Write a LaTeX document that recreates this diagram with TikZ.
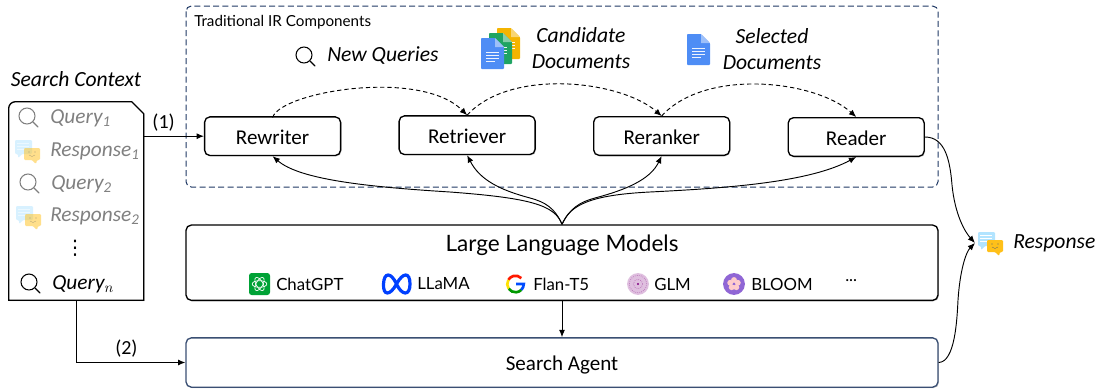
\documentclass[tikz,border=0pt]{standalone}
\usepackage{fontspec}
\setmainfont{Carlito}
\newfontfamily\handfont{Lato}
\newfontfamily\symfont{DejaVu Sans}
\usetikzlibrary{
  arrows.meta, % for the small filled arrow tips
  positioning, % for relative positioning of the modules
  shadows % for the soft edge under the boxes
}
\definecolor{framenavy}{HTML}{1F3864}
\definecolor{agentblue}{HTML}{3A4F73}
\definecolor{docblue}{HTML}{4E8DF5}
\definecolor{sheetgreen}{HTML}{1FA463}
\definecolor{slideyellow}{HTML}{F4B400}
\tikzset{
  x=.75pt,y=-.75pt, % one unit is one pixel of the picture, y down
  module/.style={ % style for the four IR modules
    rectangle,rounded corners=4pt,draw,line width=1pt,fill=white,
    drop shadow={shadow xshift=.7pt,shadow yshift=-.7pt,opacity=.4},
    minimum width=102pt,minimum height=29pt,
    text height=12.5pt,text depth=0pt,
    font=\fontsize{15.8}{18}\selectfont,
  },
  panel/.style={ % style for the two wide boxes
    module,minimum width=564pt,
  },
  caption/.style={ % style for the italic captions
    font=\fontsize{16.2}{19.5}\selectfont\itshape,align=center,
  },
  ctxline/.style={ % style for the lines in the search context
    anchor=west,inner sep=0pt,font=\fontsize{16}{18}\selectfont\itshape,
  },
  faded/.style={text=black!50},
  llmname/.style={ % style for the model names
    anchor=west,inner sep=0pt,font=\handfont\fontsize{12.6}{15}\selectfont,
  },
  conn/.style={ % style for the connections
    -{Latex[length=5.5pt,width=4.5pt]},line width=.7pt,
  },
  flow/.style={conn,dashed,dash pattern=on 3.2pt off 2.2pt},
  pics/lens/.style={code={ % magnifying glass
    \draw[#1,line width=.8pt] (0,0) circle (6pt);
    \draw[#1,line width=1pt,line cap=round] (6,6) -- (11,11);
  }},
  pics/lens/.default=black,
  pics/chat/.style={code={ % two speech bubbles
    \fill[rounded corners=.8pt,fill=blue!35!cyan!30] (0,0) -- (17,0) -- (17,14) -- (7,14) -- (3,18) -- (3,14) -- (0,14) -- cycle;
    \draw[white,line width=.4pt] (2,3) -- (14,3) (2,6) -- (14,6) (2,9) -- (10,9);
    \fill[rounded corners=.8pt,fill=orange!55!yellow!90!white] (9,8) -- (25,8) -- (25,20) -- (22,20) -- (21,24) -- (17,20) -- (9,20) -- cycle;
    \fill[black!60] (14,12) circle (.5pt) (20,12) circle (.5pt);
    \draw[black!60,line width=.3pt] (14,15) .. controls (16,17) and (18,17) .. (20,15);
  }},
  pics/gdoc/.style={code={ % page with a folded corner
    \fill[#1,rounded corners=.6pt] (0,0) -- (14,0) -- (23,9) -- (23,31) -- (0,31) -- cycle;
    \fill[white,opacity=.45] (14,0) -- (23,9) -- (14,9) -- cycle;
    \draw[white,line width=.6pt,opacity=.9] (5,14) -- (18,14) (5,17) -- (18,17) (5,20) -- (18,20) (5,23) -- (14,23);
  }},
  pics/gdoc/.default=docblue,
}
\begin{document}
\begin{tikzpicture}
\useasboundingbox (0,0) rectangle (1098,389);
% IR modules
\draw[framenavy,line width=.75pt,dashed,dash pattern=on 4.5pt off 2.5pt,rounded corners=4pt] (186,6) rectangle (938,187);
\node[anchor=west,inner sep=0pt,font=\handfont\fontsize{11.4}{13}\selectfont] (irtitle) at (194,22) {Traditional IR Components};
\node[module] (rewriter) at (272.6,136.2) {Rewriter};
\node[module,right=42.9pt of rewriter,yshift=.75pt] (retriever) {Retriever};
\node[module,right=42.9pt of retriever,yshift=-.6pt] (reranker) {Reranker};
\node[module,right=42.9pt of reranker,yshift=-.75pt] (reader) {Reader};
% wide boxes
\node[panel,minimum height=56.5pt] (llm) at (562,262.7) {};
\node[panel,minimum height=37pt,draw=agentblue] (agent) at (562,362.5) {Search Agent};
\node[font=\handfont\fontsize{16.9}{20}\selectfont] (llmtitle) at (562,245.5) {Large Language Models};
% search context
\node[caption] (ctxtitle) at (76,79) {Search Context};
\node[minimum width=100.9pt,minimum height=148.5pt,inner sep=0pt] (ctx) at (76.2,201) {};
\draw[line width=1pt,fill=white,drop shadow={shadow xshift=.7pt,shadow yshift=-.7pt,opacity=.4}] (ctx.south west) -- ([yshift=-5pt]ctx.north west) arc[start angle=180,end angle=90,radius=5pt] -- ([xshift=-9pt]ctx.north east) -- ([yshift=-9pt]ctx.north east) -- (ctx.south east) -- cycle;
\pic[opacity=.5] at (27,116) {lens=black};
\pic[opacity=.5] at (15,140) {chat};
\pic[opacity=.5] at (28,182) {lens=black};
\pic[opacity=.5] at (16,206) {chat};
\pic at (29,282) {lens};
\node[ctxline,faded] (q1) at (50,118) {Query$_{\mathit{1}}$};
\node[ctxline,faded] (r1) at (50,151) {Response$_{\mathit{1}}$};
\node[ctxline,faded] (q2) at (51,184) {Query$_{\mathit{2}}$};
\node[ctxline,faded] (r2) at (50,216) {Response$_{\mathit{2}}$};
\node[inner sep=0pt,font=\symfont\fontsize{15}{15}\selectfont] (qdots) at (75,248) {⋮};
\node[ctxline] (qn) at (52,284) {Query$_{n}$};
% captions
\pic at (304,55) {lens};
\node[caption,anchor=west,inner sep=0pt] (newq) at (327,56) {New Queries};
\pic at (497,28) {gdoc=slideyellow};
\pic at (489,33) {gdoc=sheetgreen};
\pic at (481,38) {gdoc};
\node[caption] (canddocs) at (581,48) {Candidate\\Documents};
\pic at (687,34) {gdoc};
\node[caption] (seldocs) at (772,49.5) {Selected\\Documents};
% model row
\fill[green!50!teal!85!black,rounded corners=2pt] (249,273) rectangle (270,295);
\draw[white,line width=.5pt] (259.5,284) ellipse (5.5pt and 2.5pt);
\draw[white,line width=.5pt,rotate around={60:(259.5,284)}] (259.5,284) ellipse (5.5pt and 2.5pt);
\draw[white,line width=.5pt,rotate around={-60:(259.5,284)}] (259.5,284) ellipse (5.5pt and 2.5pt);
\node[llmname] (chatgpt) at (276,284) {ChatGPT};
\draw[blue!75!cyan,line width=2.4pt] (396.5,284) .. controls (391,272) and (384,272) .. (383.5,284) .. controls (383,296) and (390,296) .. (396.5,284) .. controls (403,272) and (410,272) .. (410,284) .. controls (410,296) and (402,296) .. (396.5,284);
\node[llmname] (llama) at (417,284) {LLaMA};
\draw[red!80!orange,line width=2pt] (515.5,284) ++(45:6.2pt) arc[start angle=45,end angle=150,radius=6.2pt];
\draw[yellow!85!orange,line width=2pt] (515.5,284) ++(150:6.2pt) arc[start angle=150,end angle=215,radius=6.2pt];
\draw[green!60!black,line width=2pt] (515.5,284) ++(215:6.2pt) arc[start angle=215,end angle=315,radius=6.2pt];
\draw[blue!70!cyan,line width=2pt] (515.5,284) ++(315:6.2pt) arc[start angle=315,end angle=360,radius=6.2pt] -- (516,284);
\node[llmname] (flan) at (533,284) {Flan-T5};
\fill[violet!25] (638,284) circle (8.2pt);
\draw[violet!60,densely dotted,line width=.5pt] (638,284) circle (6.5pt) (638,284) circle (3.5pt);
\fill[violet] (638,284) circle (.8pt);
\node[llmname] (glm) at (654,284) {GLM};
\fill[blue!45!violet!60] (734,284) circle (8.2pt);
\foreach \petal in {0,72,...,288}
  \fill[red!20] (734,284) ++(\petal+90:3pt) circle (2.2pt);
\node[llmname] (bloom) at (751,284) {BLOOM};
\node[llmname] (llmdots) at (845,281) {...};
% response
\coordinate (resp) at (975,243);
\pic at (978,232) {chat};
\node[caption,anchor=west,inner sep=0pt] (response) at (1013,243) {Response};
% connections
\draw[conn] (ctx.east |- rewriter.west) -- node[above,font=\fontsize{15}{16}\selectfont,pos=.33] {(1)} (rewriter.west);
\draw[conn] (ctx.south) |- node[above,font=\fontsize{15}{16}\selectfont,pos=.73] {(2)} (agent.west);
\draw[flow] ([yshift=-1pt]rewriter.north) .. controls (280,92) and (420,68) .. (retriever.north);
\draw[flow] (retriever.north) .. controls (510,68) and (620,80) .. (reranker.north);
\draw[flow] (reranker.north) .. controls (705,68) and (815,80) .. (reader.north);
\draw[conn] (llm.north) .. controls (555,205) and (530,198) .. (450,192) .. controls (370,187) and (300,180) .. (rewriter.south);
\draw[conn] (llm.north) .. controls (555,208) and (545,202) .. (530,198) .. controls (500,190) and (480,180) .. (retriever.south);
\draw[conn] (llm.north) .. controls (570,208) and (580,202) .. (595,198) .. controls (625,190) and (650,180) .. (reranker.south);
\draw[conn] (llm.north) .. controls (570,205) and (590,195) .. (650,192) .. controls (730,188) and (810,182) .. (reader.south);
\draw[conn] (llm.south) -- (agent.north);
\draw[conn] (reader.east) .. controls (945,137) and (950,160) .. (952,185) .. controls (955,215) and (965,232) .. (resp);
\draw[conn] (agent.east) .. controls (955,362) and (957,320) .. (958,300) .. controls (960,270) and (966,252) .. (resp);
\end{tikzpicture}
\end{document}
